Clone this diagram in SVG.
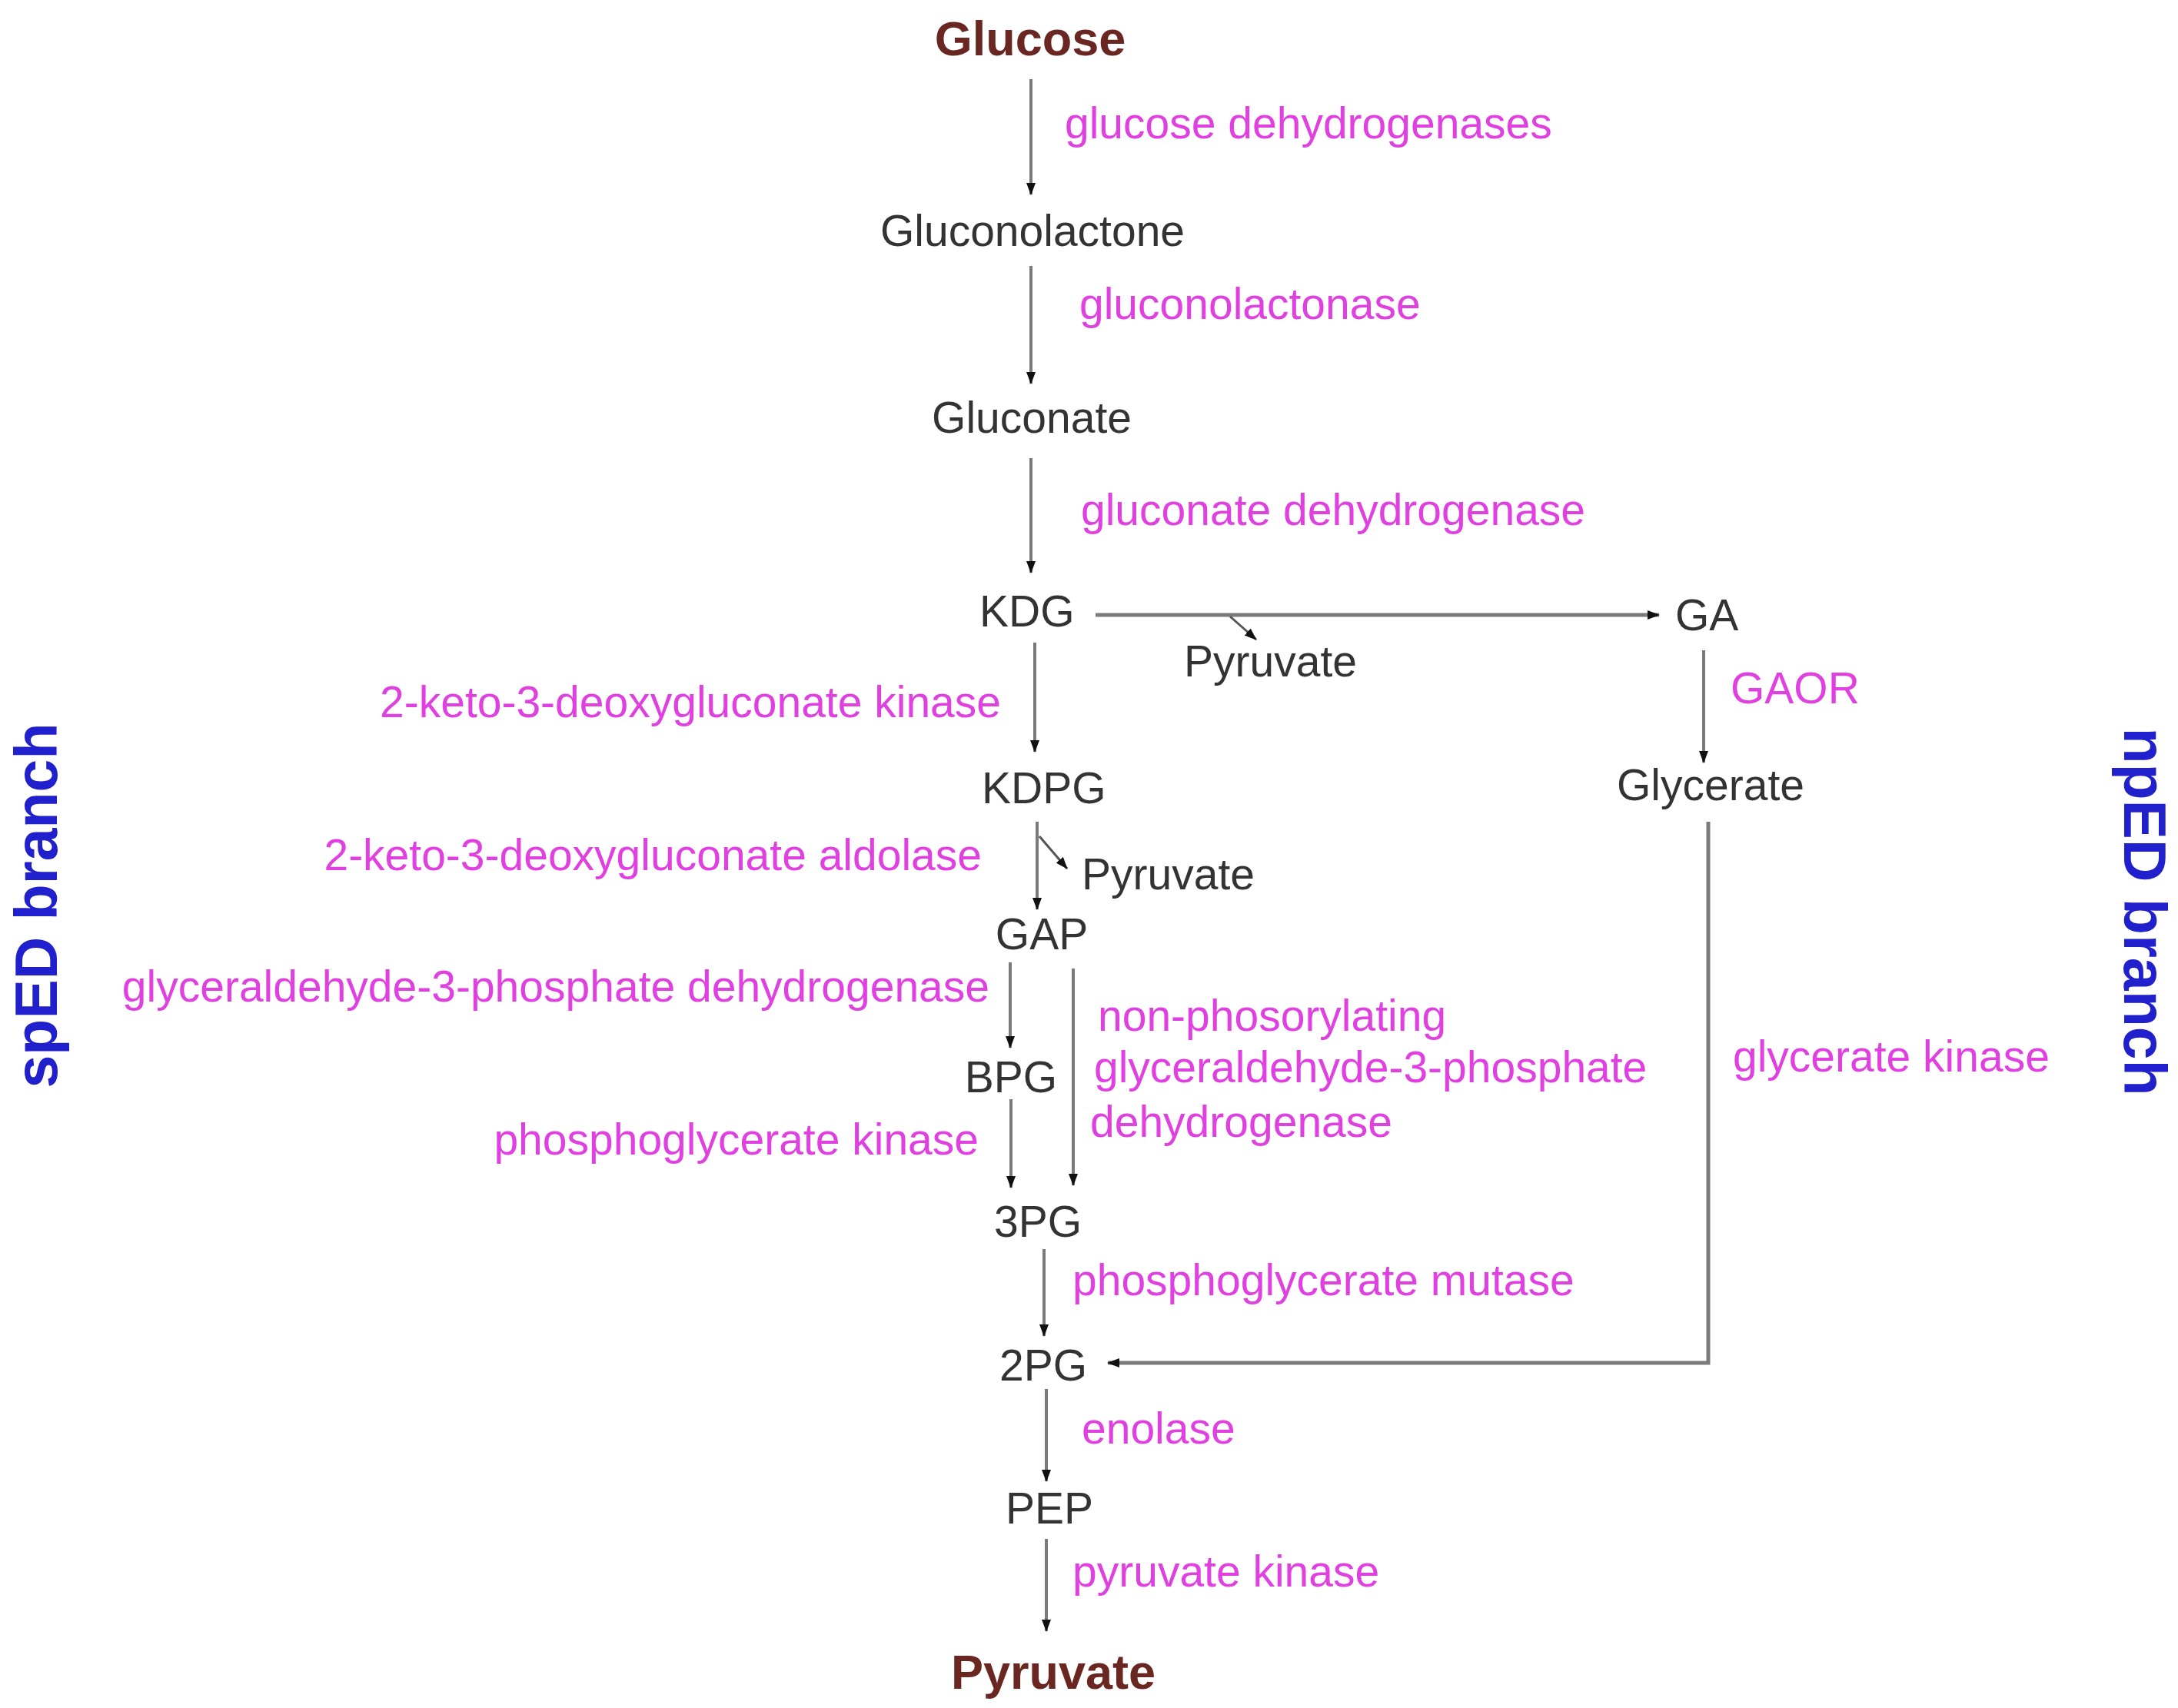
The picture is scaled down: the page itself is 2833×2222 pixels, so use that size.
<svg xmlns="http://www.w3.org/2000/svg" width="2833" height="2222" viewBox="0 0 2833 2222">
<defs>
<marker id="ah" viewBox="0 0 16 12" refX="15" refY="6" markerWidth="16" markerHeight="12" markerUnits="userSpaceOnUse" orient="auto">
<path d="M0,0 L16,6 L0,12 z" fill="#111"/>
</marker>
<style>
text{font-family:"Liberation Sans",Arial,sans-serif;font-size:57px}
.m{fill:#333}
.e{fill:#e040e0}
.t{fill:#6a2620;font-weight:bold;font-size:63px}
.b{fill:#2020cc;font-weight:bold;font-size:77px}
.c{text-anchor:middle}
.r{text-anchor:end}
.ln{fill:none;stroke:#7a7a7a;stroke-width:4;marker-end:url(#ah)}
.th{stroke-width:5}
.tk{fill:none;stroke:#555;stroke-width:3;marker-end:url(#ah)}
</style>
</defs>
<rect width="2833" height="2222" fill="#fff"/>
<g id="connectors">
<path class="ln" d="M1341,103 V253"/>
<path class="ln" d="M1341,346 V499"/>
<path class="ln" d="M1341,596 V745"/>
<path class="ln th" d="M1425,800 H2158"/>
<path class="tk" d="M1600,802 L1634,832"/>
<path class="ln" d="M2216,846 V992"/>
<path class="ln th" d="M2222,1069 V1773 H1441"/>
<path class="ln" d="M1346,836 V978"/>
<path class="ln" d="M1349,1069 V1183"/>
<path class="tk" d="M1352,1088 L1388,1130"/>
<path class="ln" d="M1314,1252 V1363"/>
<path class="ln" d="M1396,1260 V1542"/>
<path class="ln" d="M1315,1430 V1545"/>
<path class="ln" d="M1358,1625 V1738"/>
<path class="ln" d="M1361,1807 V1927"/>
<path class="ln" d="M1361,2002 V2122"/>
</g>
<g id="glucose"><text class="t c" x="1340" y="72">Glucose</text></g>
<g id="gluconolactone"><text class="m c" x="1343" y="320">Gluconolactone</text></g>
<g id="gluconate"><text class="m c" x="1342" y="563">Gluconate</text></g>
<g id="kdg"><text class="m" x="1274" y="815">KDG</text></g>
<g id="pyruvate1"><text class="m" x="1540" y="880">Pyruvate</text></g>
<g id="ga"><text class="m" x="2179" y="820">GA</text></g>
<g id="glycerate"><text class="m" x="2103" y="1041">Glycerate</text></g>
<g id="kdpg"><text class="m" x="1277" y="1045">KDPG</text></g>
<g id="pyruvate2"><text class="m" x="1407" y="1157">Pyruvate</text></g>
<g id="gap"><text class="m c" x="1355" y="1235">GAP</text></g>
<g id="bpg"><text class="m c" x="1315" y="1421">BPG</text></g>
<g id="pg3"><text class="m c" x="1350" y="1609">3PG</text></g>
<g id="pg2"><text class="m c" x="1357" y="1796">2PG</text></g>
<g id="pep"><text class="m c" x="1365" y="1982">PEP</text></g>
<g id="pyruvate"><text class="t c" x="1370" y="2197">Pyruvate</text></g>
<g id="enzymes">
<text class="e" x="1385" y="180">glucose dehydrogenases</text>
<text class="e" x="1404" y="415">gluconolactonase</text>
<text class="e" x="1406" y="683">gluconate dehydrogenase</text>
<text class="e" x="2251" y="915">GAOR</text>
<text class="e" x="2254" y="1394">glycerate kinase</text>
<text class="e r" x="1302" y="933">2-keto-3-deoxygluconate kinase</text>
<text class="e r" x="1277" y="1132">2-keto-3-deoxygluconate aldolase</text>
<text class="e r" x="1287" y="1303">glyceraldehyde-3-phosphate dehydrogenase</text>
<text class="e r" x="1273" y="1502">phosphoglycerate kinase</text>
<text class="e" x="1428" y="1341">non-phosorylating</text>
<text class="e" x="1423" y="1408">glyceraldehyde-3-phosphate</text>
<text class="e" x="1418" y="1479">dehydrogenase</text>
<text class="e" x="1395" y="1685">phosphoglycerate mutase</text>
<text class="e" x="1407" y="1878">enolase</text>
<text class="e" x="1395" y="2064">pyruvate kinase</text>
</g>
<g id="branches">
<text class="b c" transform="translate(74,1178) rotate(-90)">spED branch</text>
<text class="b c" transform="translate(2763,1186) rotate(90)">npED branch</text>
</g>
</svg>
